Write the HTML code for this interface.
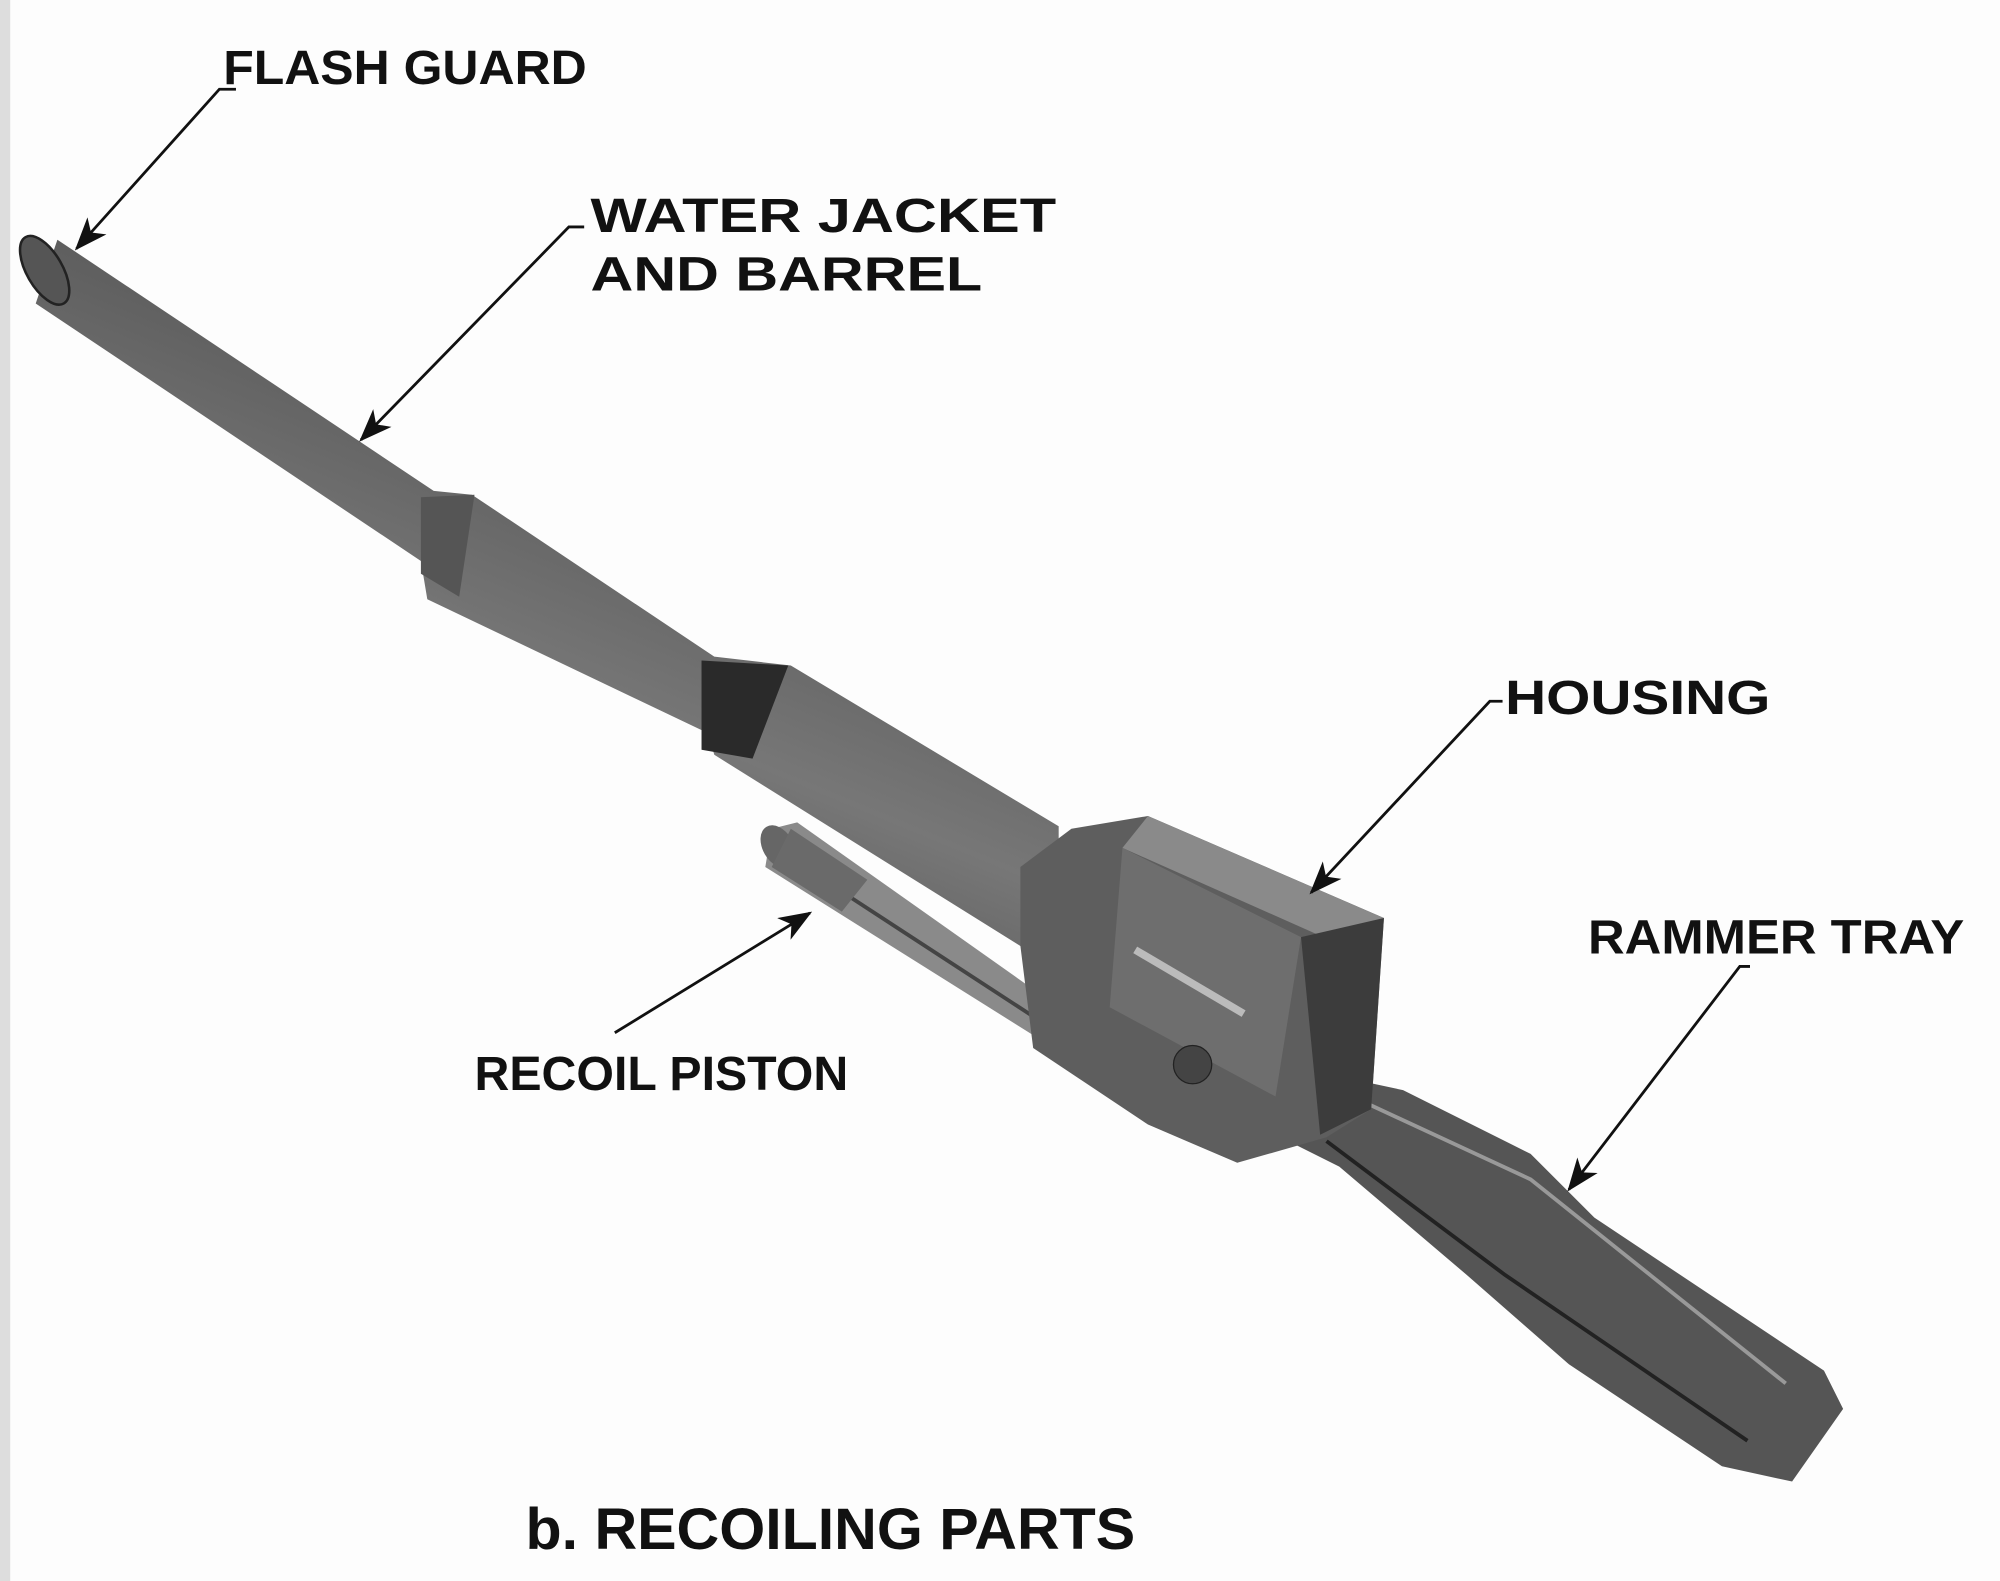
<!DOCTYPE html>
<html><head><meta charset="utf-8">
<style>
html,body{margin:0;padding:0;background:#fdfdfd;}
svg{display:block;}
text{font-family:"Liberation Sans",sans-serif;font-weight:bold;fill:#111;}
</style></head>
<body>
<svg width="2000" height="1581" viewBox="0 0 1568 1240" preserveAspectRatio="none" xmlns="http://www.w3.org/2000/svg">
<defs>
<linearGradient id="lg" x1="0" y1="1" x2="0.6" y2="0">
<stop offset="0" stop-color="#333"/><stop offset="0.5" stop-color="#777"/><stop offset="1" stop-color="#444"/>
</linearGradient>
<marker id="ah" markerWidth="26" markerHeight="20" refX="24" refY="10" orient="auto" markerUnits="userSpaceOnUse" viewBox="0 0 26 20">
<path d="M0,0 L26,10 L0,20 L7,10 z" fill="#111"/>
</marker>
</defs>
<rect x="0" y="0" width="1568" height="1240" fill="#fdfdfd"/>
<rect x="0" y="0" width="8" height="1240" fill="#ddd"/>

<!-- barrel -->
<polygon points="45,188 340,385 370,388 560,515 620,522 830,648 830,700 800,742 560,592 555,575 335,470 330,440 28,238" fill="url(#lg)"/>
<ellipse cx="35" cy="212" rx="14" ry="30" transform="rotate(-30 35 212)" fill="#555" stroke="#222" stroke-width="2"/>
<polygon points="550,518 618,522 590,595 550,588" fill="#2a2a2a"/>
<polygon points="330,390 372,388 360,468 330,450" fill="#555"/>

<!-- recoil piston -->
<polygon points="605,650 625,645 830,790 815,815 600,680" fill="#8a8a8a"/>
<line x1="615" y1="670" x2="822" y2="805" stroke="#444" stroke-width="3"/>
<ellipse cx="610" cy="664" rx="12" ry="18" transform="rotate(-30 610 664)" fill="#666"/>
<polygon points="620,650 680,690 660,715 605,680" fill="#6a6a6a"/>

<!-- rammer tray -->
<polygon points="1030,840 1100,855 1200,905 1250,955 1430,1075 1445,1105 1405,1162 1350,1150 1230,1070 1150,1000 1050,915 1000,890" fill="#555"/>
<polyline points="1060,860 1200,925 1400,1085" fill="none" stroke="#999" stroke-width="3"/>
<polyline points="1040,895 1180,1000 1370,1130" fill="none" stroke="#222" stroke-width="3"/>

<!-- housing -->
<polygon points="800,680 840,650 900,640 1085,720 1075,870 1040,892 970,912 900,882 810,822 800,742" fill="#5e5e5e"/>
<polygon points="900,640 1085,720 1060,745 880,665" fill="#8a8a8a"/>
<polygon points="1020,735 1085,720 1075,870 1035,890" fill="#3c3c3c"/>
<polygon points="880,665 1020,735 1000,860 870,790" fill="#6e6e6e"/>
<line x1="890" y1="745" x2="975" y2="795" stroke="#bbb" stroke-width="6"/>
<circle cx="935" cy="835" r="15" fill="#444" stroke="#222"/>

<!-- arrows -->
<g stroke="#111" stroke-width="2.2" fill="none" marker-end="url(#ah)">
<polyline points="185,70 172,70 60,195"/>
<polyline points="458,178 446,178 283,345"/>
<polyline points="1178,550 1168,550 1028,700"/>
<polyline points="1372,758 1364,758 1230,933"/>
<polyline points="482,810 635,716"/>
</g>

<!-- labels -->
<text x="175" y="66" font-size="38" textLength="285" lengthAdjust="spacingAndGlyphs">FLASH GUARD</text>
<text x="463" y="182" font-size="38" textLength="365" lengthAdjust="spacingAndGlyphs">WATER JACKET</text>
<text x="463" y="228" font-size="38" textLength="307" lengthAdjust="spacingAndGlyphs">AND BARREL</text>
<text x="1180" y="560" font-size="38" textLength="208" lengthAdjust="spacingAndGlyphs">HOUSING</text>
<text x="1245" y="748" font-size="38" textLength="295" lengthAdjust="spacingAndGlyphs">RAMMER TRAY</text>
<text x="372" y="855" font-size="38" textLength="293" lengthAdjust="spacingAndGlyphs">RECOIL PISTON</text>
<text x="412" y="1215" font-size="46" textLength="478" lengthAdjust="spacingAndGlyphs">b. RECOILING PARTS</text>
</svg>
</body></html>
